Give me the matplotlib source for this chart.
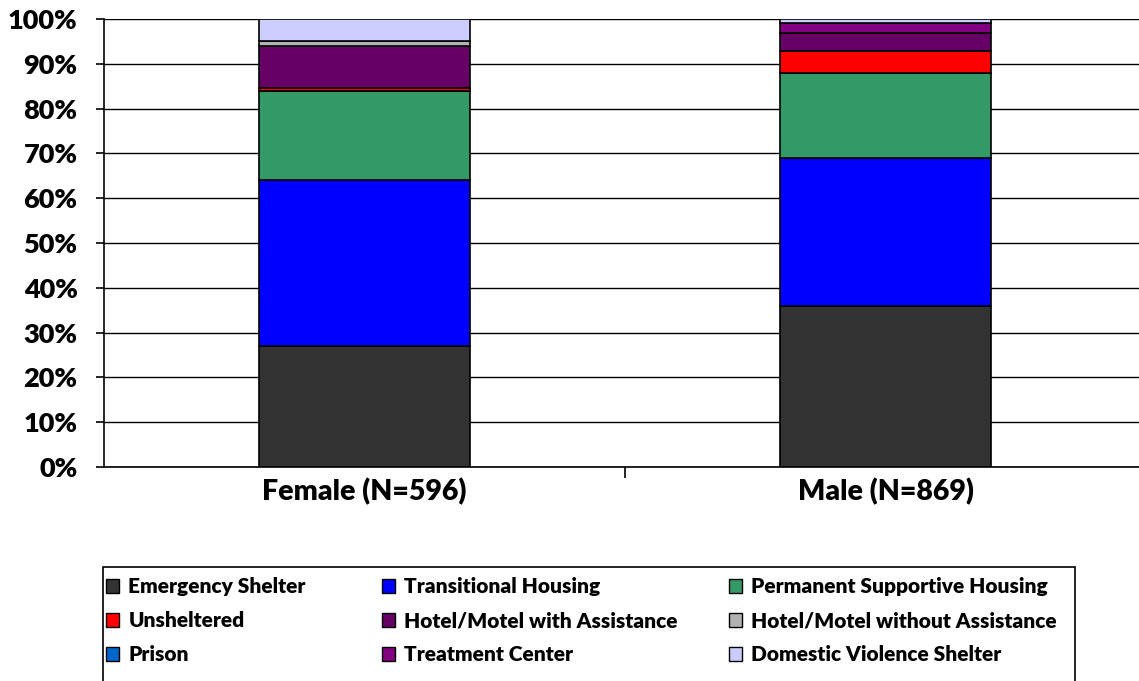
import matplotlib
matplotlib.use("Agg")
import matplotlib.pyplot as plt
from matplotlib.patches import Patch, Rectangle
from matplotlib.ticker import FuncFormatter, MultipleLocator
import numpy as np

categories = ["Female (N=596)", "Male (N=869)"]
series_names = ["Emergency Shelter", "Transitional Housing", "Permanent Supportive Housing",
                "Unsheltered", "Hotel/Motel with Assistance", "Hotel/Motel without Assistance",
                "Prison", "Treatment Center", "Domestic Violence Shelter"]
female = [27.0, 37.0, 20.0, 0.7, 9.2, 1.2, 0.0, 0.0, 4.9]
male = [36.0, 33.0, 19.0, 4.8, 4.1, 0.0, 0.0, 2.2, 0.9]
colors = ["#333333", "#0000FF", "#339966", "#FF0000", "#660066", "#B2B2B2",
          "#0066CC", "#800080", "#CCCCFF"]

plt.rcParams['font.family'] = ['Lato', 'DejaVu Sans']
WEIGHT = "heavy"

fig = plt.figure(figsize=(11.39, 6.81), dpi=100)
W, H = 1139, 681
ax = fig.add_axes([104 / W, 1 - 467 / H, (1146 - 104) / W, (467 - 19) / H])

x = np.arange(len(categories))
bottom = np.zeros(len(categories))
handles = []
for name, f, m, c in zip(series_names, female, male, colors):
    vals = np.array([f, m])
    ax.bar(x, vals, width=0.405, bottom=bottom, color=c, edgecolor="black",
           linewidth=1.2, zorder=3)
    bottom += vals
    handles.append(Patch(facecolor=c, edgecolor="black", linewidth=1.0, label=name))

ax.set_xlim(-0.5, 1.5)
ax.set_ylim(0, 100)
ax.yaxis.set_major_locator(MultipleLocator(10))
ax.yaxis.set_major_formatter(FuncFormatter(lambda v, p: f"{int(round(v))}%"))
ax.grid(axis="y", color="black", linewidth=1.0, zorder=0)
for s in ["top", "right"]:
    ax.spines[s].set_visible(False)
ax.spines["left"].set_linewidth(1.2)
ax.spines["bottom"].set_linewidth(1.2)

ax.set_xticks(x)
ax.set_xticklabels(categories, fontsize=20.5, fontweight=WEIGHT)
ax.tick_params(axis="x", which="major", length=0, pad=8)
ax.set_xticks([0.5], minor=True)
ax.tick_params(axis="x", which="minor", length=8, width=1.2, direction="out")
ax.tick_params(axis="y", length=6, width=1.2, direction="out", pad=13,
               labelsize=19.5)
for lab in ax.get_yticklabels():
    lab.set_fontweight(WEIGHT)

# legend frame
fig.patches.append(Rectangle((103 / W, -0.05), (1075 - 103) / W, 0.05 + (681 - 567) / H,
                             transform=fig.transFigure, facecolor="white",
                             edgecolor="black", linewidth=1.2))
# three legend columns (row-wise order like the original)
col_x = [96, 372, 719]
for ci in range(3):
    idx = [ci, ci + 3, ci + 6]
    fig.legend([handles[i] for i in idx], [series_names[i] for i in idx],
               ncol=1, loc="upper left", bbox_to_anchor=(col_x[ci] / W, 1 - 567 / H),
               frameon=False, prop={"size": 15, "weight": WEIGHT},
               handlelength=0.6, handleheight=0.6, handletextpad=0.45,
               labelspacing=0.72, borderpad=0.0)

fig.savefig("out.png", dpi=100)
